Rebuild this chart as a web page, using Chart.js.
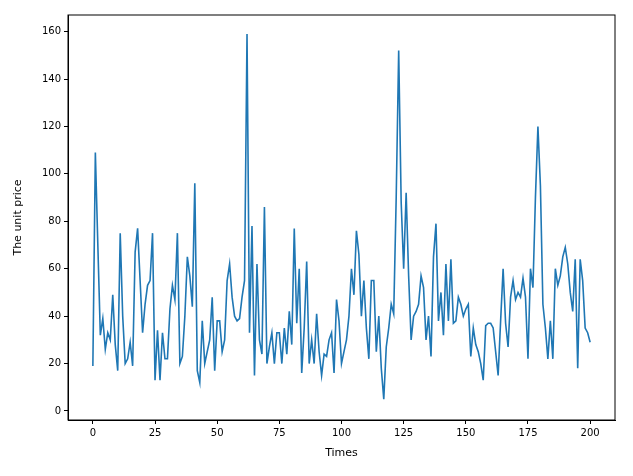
<!DOCTYPE html>
<html><head><meta charset="utf-8">
<script src="https://cdn.jsdelivr.net/npm/chart.js@4"></script>
<style>html,body{margin:0;padding:0;background:#fff}#w{width:633px;height:476px}</style>
</head><body><div id="w"><canvas id="c"></canvas></div>
<script>
const prices = [19,109,70,32,39,26,33,30,49,28,17,75,40,20,22,29,19,67,77,55,33,45,
53,55,75,13,34,13,33,22,22,43,53,47,75,20,23,40,65,57,44,96,17,12,38,20,25,30,
48,17,38,38,25,30,55,62,48,40,38,39,48,55,159,
33,78,15,62,30,24,86,20,27,33,20,33,33,20,35,24,42,28,77,37,60,16,35,63,20,30,
20,41,25,15,24,23,30,33,16,47,38,20,25,
30,40,60,49,76,66,40,55,35,22,55,55,25,40,
18,5,27,35,45,41,90,152,
88,60,92,57,30,40,42,45,57,52,30,40,23,65,79,38,50,32,62,38,64,37,38,48,45,
40,43,45,23,35,28,25,20,13,36,37,37,35,25,15,38,60,37,27,48,55,47,50,
48,56,48,22,60,52,90,120,95,45,35,22,38,22,60,53,57,65,69,62,50,
42,64,18,64,55,35,33,29];
const xTicks = [0,25,50,75,100,125,150,175,200];
const yTicks = [0,20,40,60,80,100,120,140,160];
const xLabel = 'Times', yLabel = 'The unit price';
const font = {family:'DejaVu Sans', size:10};
const frame = {id:'frame', afterDraw(ch){const a=ch.chartArea,c=ch.ctx;c.save();c.strokeStyle='#000';c.lineWidth=1;c.strokeRect(a.left,a.top,a.right-a.left,a.bottom-a.top);c.restore();}};
new Chart(document.getElementById('c'),{
  type:'line',
  data:{datasets:[{data:prices.map((v,i)=>({x:i,y:v})),borderColor:'#1f77b4',borderWidth:1.6,pointRadius:0,tension:0,fill:false}]},
  options:{responsive:true,maintainAspectRatio:false,animation:false,
    layout:{padding:{top:15,right:18,left:8,bottom:12}},
    plugins:{legend:{display:false},tooltip:{enabled:false}},
    scales:{
      x:{type:'linear',min:-10,max:210,
        afterBuildTicks(s){s.ticks=xTicks.map(v=>({value:v}));},
        afterFit(s){s.height=44;},
        grid:{drawOnChartArea:false,drawTicks:true,tickLength:4,color:'#000'},
        border:{color:'#000'},
        ticks:{color:'#000',font,maxRotation:0,padding:3},
        title:{display:true,text:xLabel,color:'#000',font:{family:'DejaVu Sans',size:11},padding:{top:2}}},
      y:{min:-3.8,max:167,
        afterBuildTicks(s){s.ticks=yTicks.map(v=>({value:v}));},
        afterFit(s){s.width=60;},
        grid:{drawOnChartArea:false,drawTicks:true,tickLength:4,color:'#000'},
        border:{color:'#000'},
        ticks:{color:'#000',font,padding:3},
        title:{display:true,text:yLabel,color:'#000',font:{family:'DejaVu Sans',size:11},padding:{bottom:4}}}
    }},
  plugins:[frame]
});
</script></body></html>
